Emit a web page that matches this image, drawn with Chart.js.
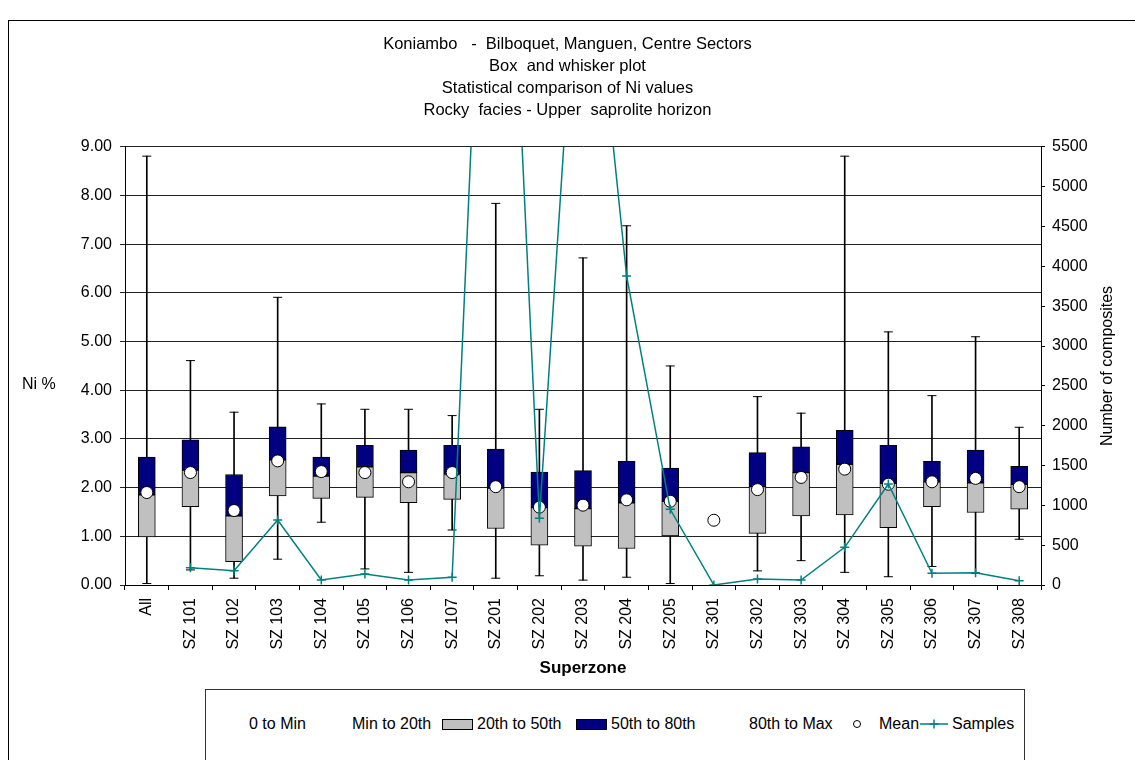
<!DOCTYPE html>
<html lang="en">
<head>
  <meta charset="UTF-8" />
  <title>Koniambo box and whisker</title>
  <script src="https://cdn.jsdelivr.net/npm/chart.js"></script>
  <style>
    body { margin: 0; background: #fff; overflow: hidden; font-family: "Liberation Sans", Arial, sans-serif; }
    #frame { position: absolute; left: 8px; top: 20px; width: 1300px; height: 900px; border: 1px solid #000; }
    #graphe { position: absolute; left: 0; top: 0; }
    #legende { position: absolute; left: 205px; top: 689px; width: 818px; height: 100px; border: 1px solid #333;
               background: #fff; overflow: hidden; font-size: 16px; color: #000; }
    #legende span { position: absolute; top: 25px; line-height: 18px; white-space: nowrap; }
    .swatch { position: absolute; top: 29px; width: 29px; height: 9px; border: 1px solid #000; }
  </style>
</head>
<body>
  <div id="frame"></div>
  <canvas id="graphe" width="1135" height="760"></canvas>
  <div id="legende"></div>

<script>
  // categories
  const superzones = ['All', 'SZ 101', 'SZ 102', 'SZ 103', 'SZ 104', 'SZ 105', 'SZ 106', 'SZ 107',
    'SZ 201', 'SZ 202', 'SZ 203', 'SZ 204', 'SZ 205',
    'SZ 301', 'SZ 302', 'SZ 303', 'SZ 304', 'SZ 305', 'SZ 306', 'SZ 307', 'SZ 308'];

  // Ni % statistics per superzone
  const niMin = [0.03, 0.31, 0.14, 0.53, 1.29, 0.33, 0.26, 1.13, 0.14, 0.19, 0.10, 0.16, 0.03, null, 0.29, 0.50, 0.26, 0.17, 0.38, 0.24, 0.94];
  const ni20  = [0.99, 1.61, 0.48, 1.83, 1.78, 1.80, 1.69, 1.76, 1.16, 0.82, 0.80, 0.75, 1.01, null, 1.06, 1.42, 1.44, 1.18, 1.61, 1.49, 1.56];
  const ni50  = [1.85, 2.36, 1.42, 2.57, 2.24, 2.43, 2.31, 2.27, 1.99, 1.59, 1.57, 1.69, 1.72, null, 2.02, 2.31, 2.48, 2.09, 2.12, 2.10, 2.07];
  const ni80  = [2.63, 2.98, 2.27, 3.25, 2.63, 2.87, 2.77, 2.87, 2.79, 2.32, 2.35, 2.54, 2.40, null, 2.72, 2.84, 3.18, 2.87, 2.54, 2.77, 2.44];
  const niMax = [8.81, 4.61, 3.55, 5.91, 3.72, 3.61, 3.61, 3.48, 7.84, 3.61, 6.72, 7.38, 4.50, null, 3.87, 3.53, 8.81, 5.20, 3.89, 5.10, 3.24];
  const niMean = [1.90, 2.31, 1.53, 2.55, 2.33, 2.31, 2.12, 2.31, 2.02, 1.60, 1.64, 1.75, 1.72, 1.33, 1.96, 2.21, 2.38, 2.07, 2.12, 2.19, 2.02];

  // number of composites (secondary axis)
  const samples = [null, 217, 180, 816, 63, 138, 63, 97, 12600, 837, 9200, 3880, 950, 0, 75, 63, 473, 1268, 147, 155, 54];

  // tick settings
  const niTicks = { min: 0, max: 9, step: 1 };
  const sampleTicks = { min: 0, max: 5500, step: 500 };

  const titleLines = ['Koniambo   -  Bilboquet, Manguen, Centre Sectors', 'Box  and whisker plot',
    'Statistical comparison of Ni values', 'Rocky  facies - Upper  saprolite horizon'];

  const police = '"Liberation Sans", Arial, sans-serif';

  // floating bars built from the arrays
  const span = (a, b) => a.map((v, i) => (v == null || b[i] == null) ? null : [v, b[i]]);

  // axis titles drawn horizontally / bottom-to-top like the original
  const axisTitles = {
    id: 'axisTitles',
    afterDraw(chart) {
      const ctx = chart.ctx;
      const area = chart.chartArea;
      ctx.save();
      ctx.fillStyle = '#000';
      ctx.font = '16px ' + police;
      ctx.textBaseline = 'middle';
      ctx.textAlign = 'left';
      ctx.fillText('Ni %', 22, 385);
      ctx.translate(1108, (area.top + area.bottom) / 2);
      ctx.rotate(-Math.PI / 2);
      ctx.textAlign = 'center';
      ctx.fillText('Number of composites', 0, 0);
      ctx.restore();
    }
  };

  const ctx = document.getElementById('graphe').getContext('2d');
  new Chart(ctx, {
    type: 'bar',
    data: {
      labels: superzones,
      datasets: [
        {
          type: 'line', label: 'Samples', data: samples, yAxisID: 'y1', order: 1,
          borderColor: '#008080', borderWidth: 1.5, tension: 0,
          pointStyle: 'cross', pointRadius: 4.5, pointBorderColor: '#008080', pointBorderWidth: 1.5
        },
        {
          type: 'line', label: 'Mean', data: niMean, order: 2, showLine: false,
          pointStyle: 'circle', pointRadius: 6, pointBackgroundColor: '#fff',
          pointBorderColor: '#000', pointBorderWidth: 1
        },
        {
          type: 'line', label: 'cap max', data: niMax, order: 3, showLine: false,
          pointStyle: 'line', pointRadius: 4.5, pointBorderColor: '#000', pointBorderWidth: 1
        },
        {
          type: 'line', label: 'cap min', data: niMin, order: 3, showLine: false,
          pointStyle: 'line', pointRadius: 4.5, pointBorderColor: '#000', pointBorderWidth: 1
        },
        {
          label: '50th to 80th', data: span(ni50, ni80), order: 4, grouped: false,
          backgroundColor: '#000080', borderColor: '#000', borderWidth: 1, borderSkipped: false, barThickness: 17
        },
        {
          label: '20th to 50th', data: span(ni20, ni50), order: 5, grouped: false,
          backgroundColor: '#c0c0c0', borderColor: '#000', borderWidth: 1, borderSkipped: false, barThickness: 17
        },
        {
          label: 'whisker', data: span(niMin, niMax), order: 6, grouped: false,
          backgroundColor: '#000', borderWidth: 0, barThickness: 1
        }
      ]
    },
    options: {
      responsive: false,
      animation: false,
      events: [],
      layout: { padding: { left: 0, right: 0, top: 0, bottom: 81 } },
      plugins: {
        legend: { display: false },
        tooltip: { enabled: false },
        title: {
          display: true, text: titleLines, color: '#000',
          font: { family: police, size: 16.5, weight: 'normal', lineHeight: 1.32 },
          padding: { top: 34, bottom: 25.8 }
        }
      },
      scales: {
        x: {
          offset: true,
          grid: { drawOnChartArea: false, offset: true, color: '#000', tickLength: 5 },
          border: { color: '#000' },
          ticks: { color: '#000', font: { family: police, size: 16 }, minRotation: 90, maxRotation: 90, autoSkip: false, padding: 8 },
          title: { display: true, text: 'Superzone', color: '#000', padding: 0,
                   font: { family: police, size: 17, weight: 'bold', lineHeight: 1.2 } },
          afterFit: s => { s.height = 94; }
        },
        y: {
          position: 'left', min: niTicks.min, max: niTicks.max,
          grid: { color: '#222', tickLength: 5 },
          border: { color: '#000' },
          ticks: { stepSize: niTicks.step, color: '#000', font: { family: police, size: 16 }, padding: 8,
                   callback: v => v.toFixed(2) },
          afterFit: s => { s.width = 125; }
        },
        y1: {
          position: 'right', min: sampleTicks.min, max: sampleTicks.max,
          grid: { drawOnChartArea: false, color: '#000', tickLength: 4 },
          border: { color: '#000' },
          ticks: { stepSize: sampleTicks.step, color: '#000', font: { family: police, size: 16 }, padding: 7,
                   callback: v => String(v) },
          afterFit: s => { s.width = 94; }
        }
      }
    },
    plugins: [axisTitles]
  });

  // legend, laid out like the Excel one
  const legendItems = [
    { text: '0 to Min', x: 43 },
    { text: 'Min to 20th', x: 146 },
    { text: '20th to 50th', x: 271, swatch: '#c0c0c0', sx: 236 },
    { text: '50th to 80th', x: 405, swatch: '#000080', sx: 370 },
    { text: '80th to Max', x: 543 },
    { text: 'Mean', x: 673, circle: 651 },
    { text: 'Samples', x: 746, line: 714 }
  ];
  const leg = document.getElementById('legende');
  legendItems.forEach(it => {
    if (it.swatch) {
      const b = document.createElement('div');
      b.className = 'swatch';
      b.style.left = it.sx + 'px';
      b.style.background = it.swatch;
      leg.appendChild(b);
    }
    if (it.circle) {
      const c = document.createElement('div');
      c.style.cssText = 'position:absolute;top:30px;width:6px;height:6px;border:1px solid #000;border-radius:50%;background:#fff;left:' + (it.circle - 4) + 'px';
      leg.appendChild(c);
    }
    if (it.line) {
      const l = document.createElementNS('http://www.w3.org/2000/svg', 'svg');
      l.setAttribute('width', '28'); l.setAttribute('height', '12');
      l.style.cssText = 'position:absolute;top:28px;left:' + it.line + 'px';
      l.innerHTML = '<line x1="0" y1="6" x2="28" y2="6" stroke="#008080" stroke-width="1.5"/>' +
        '<line x1="14" y1="1.5" x2="14" y2="10.5" stroke="#008080" stroke-width="1.5"/>' +
        '<line x1="9.5" y1="6" x2="18.5" y2="6" stroke="#008080" stroke-width="1.5"/>';
      leg.appendChild(l);
    }
    const t = document.createElement('span');
    t.textContent = it.text;
    t.style.left = it.x + 'px';
    leg.appendChild(t);
  });
</script>
</body>
</html>
